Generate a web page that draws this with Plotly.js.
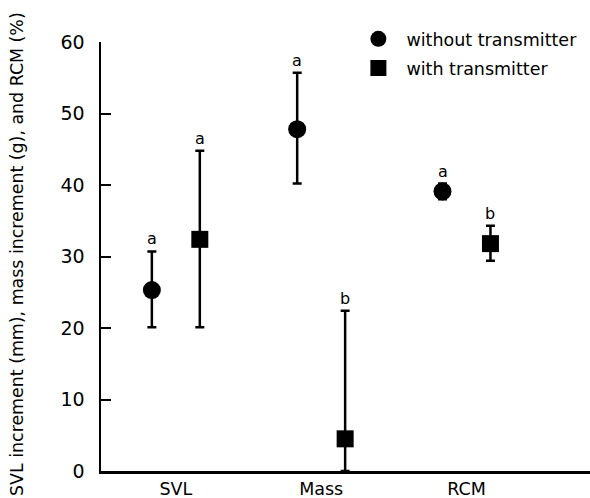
<!DOCTYPE html>
<html>
<head>
<meta charset="utf-8">
<script src="https://cdn.plot.ly/plotly-3.0.1.min.js"></script>
<style>html,body{margin:0;padding:0;background:#fff;}#chart{width:590px;height:498px;}</style>
</head>
<body>
<div id="chart"></div>
<script>
var categories = ["SVL", "Mass", "RCM"];
var catPos = [1, 2, 3];
var seriesNames = ["without transmitter", "with transmitter"];
var withoutMean = [25.3, 47.8, 39.1];
var withoutPlus = [5.4, 7.9, 1.1];
var withoutMinus = [5.2, 7.6, 1.1];
var withMean = [32.4, 4.5, 31.8];
var withPlus = [12.4, 17.9, 2.5];
var withMinus = [12.3, 4.5, 2.4];
var withoutLetters = ["a", "a", "a"];
var withLetters = ["a", "b", "b"];
var yTicks = [0, 10, 20, 30, 40, 50, 60];
var yTitle = "SVL increment (mm), mass increment (g), and RCM (%)";

var offset = 0.165;
var FONT = "DejaVu Sans, Verdana, sans-serif";
var xWithout = catPos.map(function(p){return p - offset;});
var xWith = catPos.map(function(p){return p + offset;});

var errStyle = {color: "#000", thickness: 2.5, width: 4.5};

var traces = [
  {
    x: xWithout, y: withoutMean, name: seriesNames[0], type: "scatter", mode: "markers",
    marker: {symbol: "circle", size: 18, color: "#000"}, legend: "legend",
    error_y: Object.assign({type: "data", symmetric: false, array: withoutPlus, arrayminus: withoutMinus}, errStyle),
    cliponaxis: false
  },
  {
    x: xWith, y: withMean, name: seriesNames[1], type: "scatter", mode: "markers",
    marker: {symbol: "square", size: 17, color: "#000"}, legend: "legend2",
    error_y: Object.assign({type: "data", symmetric: false, array: withPlus, arrayminus: withMinus}, errStyle),
    cliponaxis: false
  }
];

var annotations = [];
function addLetters(xs, means, plus, letters){
  for (var i = 0; i < xs.length; i++) {
    annotations.push({
      x: xs[i], y: means[i] + plus[i], xref: "x", yref: "y",
      text: letters[i], showarrow: false, yanchor: "bottom", yshift: 1,
      font: {family: FONT, size: 16, color: "#000"}
    });
  }
}
addLetters(xWithout, withoutMean, withoutPlus, withoutLetters);
addLetters(xWith, withMean, withPlus, withLetters);

// y-axis title as a rotated annotation for exact placement
annotations.push({
  x: -0.1718, y: 0.506, xref: "paper", yref: "paper", xanchor: "center", yanchor: "middle",
  text: yTitle, textangle: -90, showarrow: false,
  font: {family: FONT, size: 17.4, color: "#000"}
});

var legFont = {family: FONT, size: 17.5, color: "#000"};
var layout = {
  width: 590, height: 498,
  margin: {l: 101, r: 0, t: 42, b: 27, pad: 0},
  paper_bgcolor: "#fff", plot_bgcolor: "#fff",
  font: {family: FONT, size: 17, color: "#000"},
  showlegend: true,
  legend: {x: 0.51, y: 1.007, xanchor: "left", yanchor: "middle", yref: "paper",
           bgcolor: "rgba(0,0,0,0)", itemwidth: 46, font: legFont},
  legend2: {x: 0.51, y: 0.939, xanchor: "left", yanchor: "middle", yref: "paper",
           bgcolor: "rgba(0,0,0,0)", itemwidth: 46, font: legFont},
  xaxis: {
    range: [0.485, 3.85], tickmode: "array", tickvals: catPos, ticktext: categories,
    showline: true, linecolor: "#000", linewidth: 2.5, ticks: "", showgrid: false, zeroline: false,
    tickfont: {family: FONT, size: 17.5, color: "#000"}
  },
  yaxis: {
    range: [0, 60], tickmode: "array", tickvals: yTicks,
    showline: true, linecolor: "#000", linewidth: 2.5, ticks: "inside", ticklen: 10, tickwidth: 2,
    tickcolor: "#000", showgrid: false, zeroline: false, ticklabelstandoff: 10,
    tickfont: {family: FONT, size: 19, color: "#000"}
  },
  annotations: annotations
};

Plotly.newPlot("chart", traces, layout, {staticPlot: true, displayModeBar: false});
</script>
</body>
</html>
